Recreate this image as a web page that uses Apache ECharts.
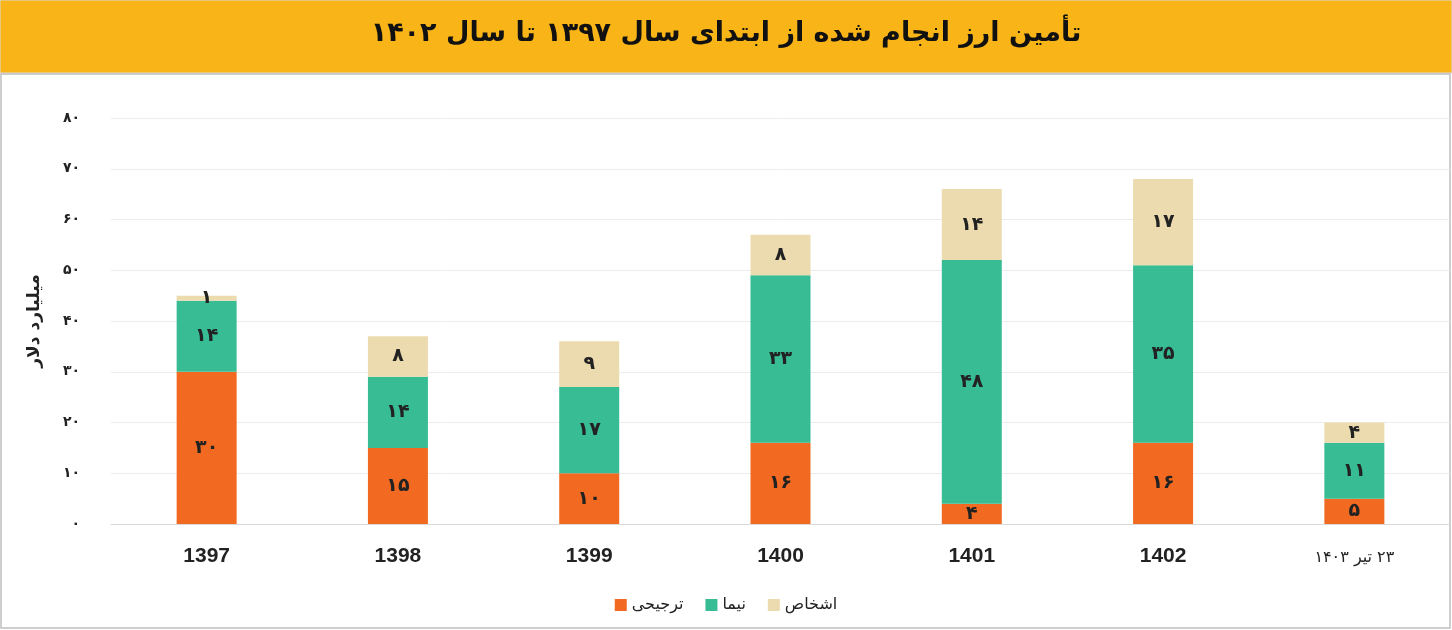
<!DOCTYPE html>
<html><head><meta charset="utf-8">
<script src="https://cdn.jsdelivr.net/npm/echarts@6/dist/echarts.min.js"></script>
<style>html,body{margin:0;padding:0;background:#fff}#c{width:1452px;height:630px}</style>
</head><body><div id="c"></div>
<script>
const categories = ['1397', '1398', '1399', '1400', '1401', '1402', '\u200F۲۳ تیر ۱۴۰۳\u200F'];
const tarjihi = [30, 15, 10, 16, 4, 16, 5];
const nima = [14, 14, 17, 33, 48, 35, 11];
const ashkhas = [1, 8, 9, 8, 14, 17, 4];
const yTicks = [0, 10, 20, 30, 40, 50, 60, 70, 80];

const FONT = '"DejaVu Sans", sans-serif';
const fa = n => String(n).replace(/\d/g, d => '۰۱۲۳۴۵۶۷۸۹'[d]);

const chart = echarts.init(document.getElementById('c'));
const mk = (name, data, color) => ({
  name, type: 'bar', stack: 'a', data, barWidth: 60,
  itemStyle: { color },
  label: { show: true, position: 'inside', formatter: p => fa(p.value),
    fontFamily: FONT, fontWeight: 'bold', fontSize: 19, color: '#222' }
});
chart.setOption({
  animation: false,
  graphic: [
    { type: 'rect', shape: { x: 0, y: 0, width: 1452, height: 73 },
      style: { fill: '#F9B518', stroke: '#d9d9d9', lineWidth: 1 } },
    { type: 'rect', shape: { x: 1, y: 74, width: 1449, height: 554 },
      style: { fill: 'none', stroke: '#bfbfbf', lineWidth: 1.5 } },
    { type: 'text', left: 'center', top: 20,
      style: { text: 'تأمین ارز انجام شده از ابتدای سال ۱۳۹۷ تا سال ۱۴۰۲',
        font: 'bold 27px ' + FONT, fill: '#111' } }
  ],
  grid: { left: 111, width: 1339, top: 118, height: 406 },
  legend: {
    bottom: 12, left: 'center', icon: 'rect', itemWidth: 12, itemHeight: 12, itemGap: 22,
    data: ['ترجیحی', 'نیما', 'اشخاص'],
    textStyle: { fontFamily: FONT, fontSize: 16, color: '#222' }
  },
  xAxis: {
    type: 'category', data: categories,
    axisLine: { lineStyle: { color: '#d9d9d9' } }, axisTick: { show: false },
    axisLabel: { margin: 22, fontSize: 21, fontWeight: 'bold', color: '#222', fontFamily: 'Liberation Sans',
      formatter: (v, i) => i === 6 ? '{n|' + v + '}' : v,
      rich: { n: { fontSize: 16, fontWeight: 'normal', fontFamily: FONT, color: '#222', padding: [4, 0, 0, 0] } } }
  },
  yAxis: {
    type: 'value', min: 0, max: 80, interval: 10,
    name: 'میلیارد دلار', nameLocation: 'middle', nameGap: 68, nameRotate: 90,
    nameTextStyle: { fontFamily: FONT, fontWeight: 'bold', fontSize: 17, color: '#222' },
    axisLine: { show: false }, axisTick: { show: false },
    axisLabel: { margin: 31, formatter: v => yTicks.includes(v) ? fa(v) : '',
      fontFamily: FONT, fontWeight: 'bold', fontSize: 14, color: '#222' },
    splitLine: { lineStyle: { color: '#ececec' } }
  },
  series: [
    mk('ترجیحی', tarjihi, '#F26A22'),
    mk('نیما', nima, '#37BC94'),
    mk('اشخاص', ashkhas, '#EBDBAE')
  ]
});
</script></body></html>
